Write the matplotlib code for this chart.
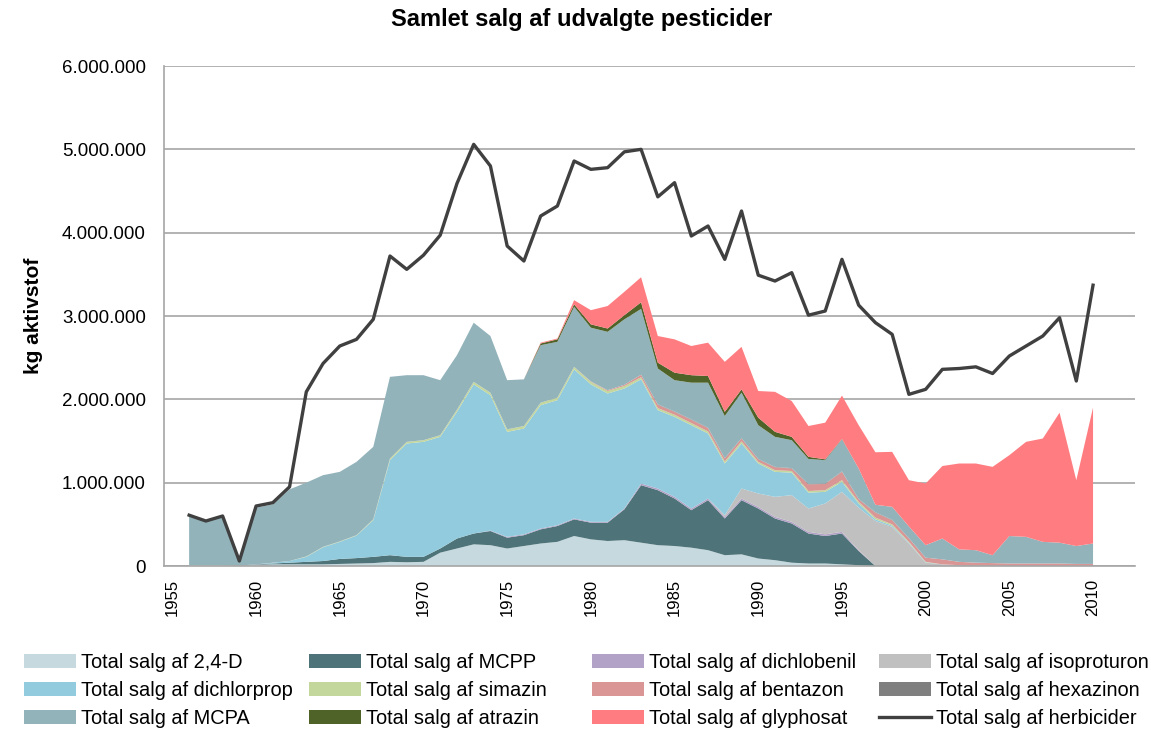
import matplotlib
matplotlib.use("Agg")
import numpy as np
import matplotlib.pyplot as plt
from matplotlib.ticker import FuncFormatter

plt.rcParams['font.family'] = ['Liberation Sans', 'DejaVu Sans']

years = list(range(1956, 2011))

# salg i tons aktivstof
d24 = [10, 10, 10, 5, 15, 20, 20, 20, 20, 25, 30, 35, 50, 45, 50, 160, 210, 260, 250, 210,
       240, 270, 290, 360, 320, 300, 310, 280, 250, 240, 220, 190, 130, 140, 90, 70, 40, 30, 30, 20,
       10, 0, 0, 0, 0, 0, 0, 0, 0, 0, 0, 0, 0, 0, 0]
mcpp = [0, 0, 0, 0, 5, 10, 20, 30, 40, 60, 65, 75, 80, 65, 60, 50, 120, 130, 170, 130,
        130, 170, 190, 200, 200, 220, 370, 690, 660, 570, 450, 600, 440, 650, 600, 500, 470, 360, 330, 370,
        170, 0, 0, 0, 0, 0, 0, 0, 0, 0, 0, 0, 0, 0, 0]
dichlobenil = [0, 0, 0, 0, 0, 0, 0, 0, 0, 0, 0, 0, 0, 0, 0, 0, 0, 0, 5, 10,
               10, 10, 10, 10, 10, 10, 10, 20, 20, 20, 20, 20, 20, 20, 20, 20, 20, 20, 20, 20,
               10, 0, 0, 0, 0, 0, 0, 0, 0, 0, 0, 0, 0, 0, 0]
isoproturon = [0, 0, 0, 0, 0, 0, 0, 0, 0, 0, 0, 0, 0, 0, 0, 0, 0, 0, 0, 0,
               0, 0, 0, 0, 0, 0, 0, 0, 0, 0, 0, 0, 20, 120, 160, 240, 320, 280, 370, 480,
               510, 540, 470, 270, 40, 20, 10, 5, 5, 0, 0, 0, 0, 0, 0]
dichlorprop = [0, 0, 0, 0, 0, 10, 20, 60, 165, 205, 270, 440, 1140, 1360, 1380, 1340, 1520, 1790, 1625, 1260,
               1270, 1480, 1500, 1790, 1650, 1540, 1440, 1250, 940, 960, 1000, 780, 620, 540, 360, 300, 270, 190, 140, 120,
               50, 20, 15, 10, 5, 0, 0, 0, 0, 0, 0, 0, 0, 0, 0]
simazin = [0, 0, 0, 0, 0, 0, 0, 5, 5, 5, 5, 10, 20, 20, 20, 20, 25, 30, 30, 30,
           30, 30, 30, 30, 30, 30, 30, 25, 25, 25, 25, 25, 25, 25, 20, 20, 20, 20, 20, 20,
           20, 20, 15, 10, 5, 0, 0, 0, 0, 0, 0, 0, 0, 0, 0]
bentazon = [0, 0, 0, 0, 0, 0, 0, 0, 0, 0, 0, 0, 0, 0, 0, 0, 0, 0, 0, 0,
            0, 0, 0, 0, 5, 10, 15, 30, 40, 35, 40, 40, 35, 35, 30, 35, 30, 80, 75, 100,
            30, 60, 50, 40, 50, 60, 40, 35, 30, 30, 30, 30, 30, 25, 25]
hexazinon = [0, 0, 0, 0, 0, 0, 0, 0, 0, 0, 0, 0, 0, 0, 0, 0, 0, 0, 0, 0,
             0, 0, 0, 0, 0, 0, 0, 0, 5, 5, 5, 5, 5, 5, 5, 5, 5, 5, 5, 5,
             5, 5, 5, 5, 0, 0, 0, 0, 0, 0, 0, 0, 0, 0, 0]
mcpa = [600, 530, 590, 45, 680, 700, 860, 885, 860, 835, 880, 870, 980, 800, 780, 660, 655, 710, 680, 590,
        560, 690, 670, 720, 645, 700, 785, 790, 430, 375, 440, 540, 505, 545, 405, 360, 335, 300, 280, 385,
        365, 90, 155, 140, 150, 250, 150, 150, 95, 330, 320, 260, 250, 215, 245]
atrazin = [0, 0, 0, 0, 0, 0, 0, 0, 0, 0, 0, 0, 0, 0, 0, 0, 0, 0, 0, 0,
           0, 20, 30, 30, 40, 40, 50, 80, 70, 90, 90, 80, 50, 40, 90, 60, 40, 25, 10, 5,
           0, 0, 0, 0, 0, 0, 0, 0, 0, 0, 0, 0, 0, 0, 0]
glyphosat = [0, 0, 0, 0, 0, 0, 0, 0, 0, 0, 0, 0, 0, 0, 0, 0, 0, 0, 0, 0,
             0, 10, 10, 50, 170, 270, 280, 300, 320, 400, 350, 400, 600, 510, 320, 480, 430, 370, 440, 520,
             520, 630, 660, 555, 740, 870, 1030, 1040, 1060, 970, 1140, 1240, 1560, 790, 1630]
herbicider = [610, 540, 600, 60, 720, 760, 950, 2090, 2430, 2640, 2720, 2960, 3720, 3560, 3730, 3970, 4590, 5060, 4800, 3840,
              3660, 4200, 4320, 4860, 4760, 4780, 4970, 5000, 4430, 4600, 3960, 4080, 3680, 4260, 3490, 3420, 3520, 3010, 3060, 3680,
              3130, 2920, 2780, 2060, 2120, 2360, 2370, 2390, 2310, 2520, 2640, 2760, 2980, 2220, 3370]

stoffer = ['2,4-D', 'MCPP', 'dichlobenil', 'isoproturon', 'dichlorprop', 'simazin',
           'bentazon', 'hexazinon', 'MCPA', 'atrazin', 'glyphosat']
serier = [d24, mcpp, dichlobenil, isoproturon, dichlorprop, simazin,
          bentazon, hexazinon, mcpa, atrazin, glyphosat]
farver = ['#c6d9df', '#4e7479', '#b3a2c7', '#c0c0c0', '#92cbdd', '#c3d69b',
          '#d99694', '#7f7f7f', '#93b3bb', '#4f6228', '#ff7c80']

fig = plt.figure(figsize=(11.51, 7.31), dpi=100)
ax = fig.add_axes([0.1425, 0.2257, 0.8435, 0.684])

kg = [np.array(s) * 1000 for s in serier]
polys = ax.stackplot(years, *kg, colors=farver, linewidth=0,
                     labels=['Total salg af ' + s for s in stoffer])
linje, = ax.plot(years, np.array(herbicider) * 1000, color='#404040', lw=2.4,
                 label='Total salg af herbicider')

ax.set_xlim(1954.5, 2012.5)
ax.set_ylim(0, 6000000)
ax.set_yticks(range(0, 6000001, 1000000))
ax.yaxis.set_major_formatter(FuncFormatter(lambda v, p: f"{int(v):,}".replace(",", ".")))
ax.set_xticks(range(1955, 2011, 5))
ax.tick_params(axis='x', labelrotation=90, labelsize=12, length=0, pad=9)
ax.tick_params(axis='y', labelsize=13.5, length=0, pad=13)
ax.grid(axis='y', color='#a6a6a6', lw=1.2)
ax.set_axisbelow(True)
for s in ['top', 'right']:
    ax.spines[s].set_visible(False)
for s in ['left', 'bottom']:
    ax.spines[s].set_color('#a6a6a6')
    ax.spines[s].set_linewidth(1.2)

ax.set_ylabel('kg aktivstof', fontsize=15, fontweight='bold', labelpad=14)
fig.text(0.505, 0.973, 'Samlet salg af udvalgte pesticider', ha='center', va='center',
         fontsize=17, fontweight='bold')

# legend: fire kolonner med samme bredde, række for række
handles = list(polys) + [linje]
labels = [h.get_label() for h in handles]
kol_x = [24, 309, 592, 879]
for k in range(4):
    idx = [k, k + 4, k + 8]
    leg = fig.legend([handles[i] for i in idx], [labels[i] for i in idx],
                     loc='upper left', bbox_to_anchor=(kol_x[k] / 1151, 1 - 653 / 731),
                     frameon=False, fontsize=14.4, handlelength=2.6, handleheight=0.65,
                     handletextpad=0.25, labelspacing=0.45, borderpad=0, borderaxespad=0)

plt.savefig('out.png', dpi=100)
